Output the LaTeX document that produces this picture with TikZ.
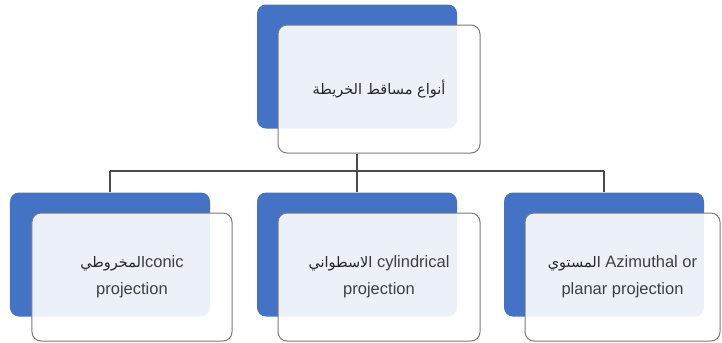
\documentclass[tikz,border=0pt]{standalone}
\usepackage{fontspec}
\setmainfont{Liberation Sans}
\newfontfamily\arabicfont[Script=Arabic]{DejaVu Sans}
\TeXXeTstate=1
\definecolor{shadeblue}{HTML}{4472C4}
\definecolor{cardedge}{HTML}{7A7A7A}
\definecolor{linkgray}{HTML}{4A4A4A}
\definecolor{txtgray}{HTML}{3F3F3F}
\newcommand{\ar}[1]{{\arabicfont\fontsize{14.5bp}{27bp}\selectfont\color{black!85}\beginR #1\endR}}
\begin{document}
\begin{tikzpicture}[x=1bp,y=-1bp,
  backcard/.style={fill=shadeblue, draw=none, rounded corners=9bp,
    minimum width=200bp, minimum height=124bp, inner sep=0pt},
  frontcard/.style={fill=white, fill opacity=0.9, draw=cardedge, draw opacity=1,
    text opacity=1, text=txtgray, line width=1bp, rounded corners=9bp,
    minimum height=128bp, inner sep=0pt, align=center,
    font=\fontsize{16.5bp}{27bp}\selectfont},
  link/.style={draw=linkgray, line width=1.1bp}]
\useasboundingbox (0,0) rectangle (722,342);

% root card
\node[backcard] (topback) at (357,66.5) {};
\node[frontcard, minimum width=202bp] (topfront) at (379,89) {\ar{أنواع مساقط الخريطة}};

% three projection families
\node[backcard] (leftback) at (110,254.5) {};
\node[backcard] (midback) at (357,254.5) {};
\node[backcard] (rightback) at (604,254.5) {};

% tree connectors
\coordinate (bus) at (0,171);
\draw[link] (topback |- topfront.south) -- (topback |- bus);
\draw[link] (leftback.north |- bus) -- (rightback.north |- bus);
\foreach \n in {leftback,midback,rightback}
  \draw[link] (\n.north |- bus) -- (\n.north);

\node[frontcard, minimum width=200bp] (leftfront) at (132,277)
  {\ar{المخروطي}conic\\projection};
\node[frontcard, minimum width=202bp] (midfront) at (379,277)
  {\ar{الاسطواني} cylindrical\\projection};
\node[frontcard, minimum width=195bp] (rightfront) at (622.5,277)
  {\ar{المستوي} Azimuthal or\\planar projection};
\end{tikzpicture}
\end{document}
